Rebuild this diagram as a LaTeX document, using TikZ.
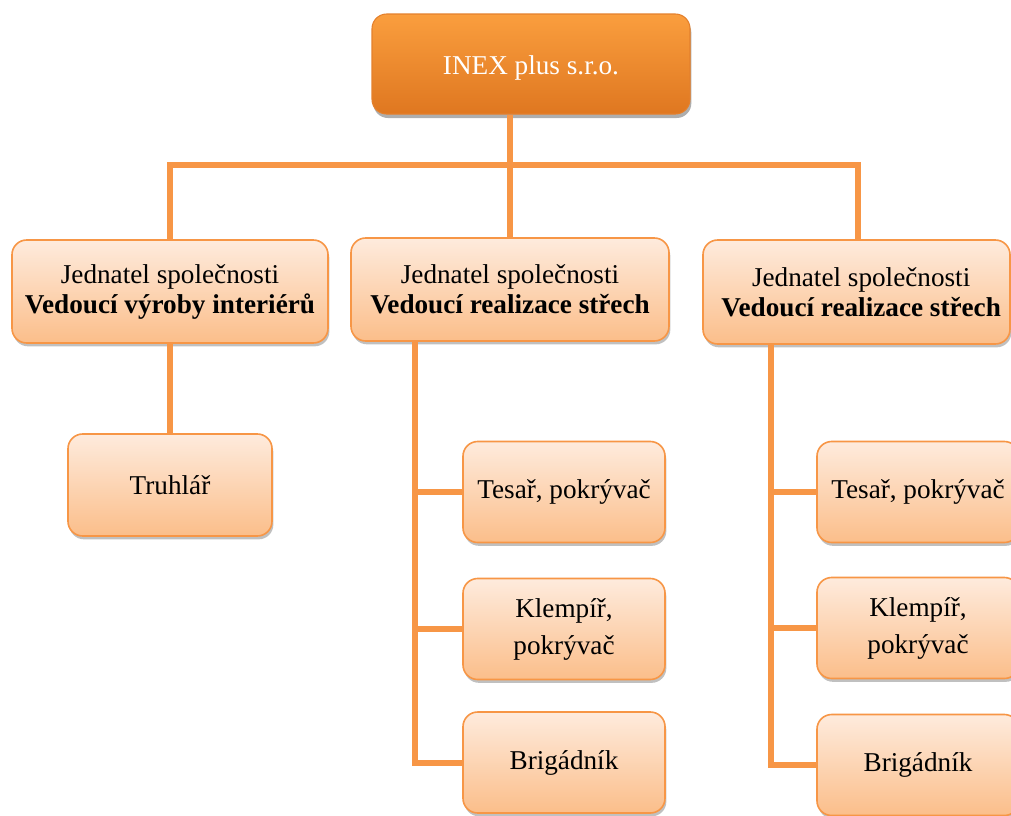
\documentclass[tikz,border=0pt]{standalone}
\usepackage{fontspec}
\setmainfont{Liberation Serif}
\usetikzlibrary{shadows,calc}
\definecolor{lineor}{HTML}{F79646}
\definecolor{boxtop}{HTML}{FEEBDD}
\definecolor{boxbot}{HTML}{FBBE8A}
\definecolor{hdtop}{HTML}{FA9E3E}
\definecolor{hdbot}{HTML}{DF7720}
\definecolor{hdedge}{HTML}{E4802C}
\tikzset{
  lightbox/.style={rounded corners=11pt, draw=lineor, line width=1.2pt,
    top color=boxtop, bottom color=boxbot, align=center, inner sep=2pt,
    font=\fontsize{20.4}{22.5}\selectfont,
    drop shadow={shadow xshift=1pt, shadow yshift=-2.5pt, opacity=0.35, fill=black!70}},
  headbox/.style={rounded corners=11pt, draw=hdedge, line width=0.8pt,
    top color=hdtop, bottom color=hdbot, text=white, align=center,
    font=\fontsize{20.4}{22.5}\selectfont,
    drop shadow={shadow xshift=1pt, shadow yshift=-3pt, opacity=0.45, fill=black!70}},
  conn/.style={draw=lineor, line width=4.5pt, line join=miter},
}
\begin{document}
\begin{tikzpicture}[x=0.75pt,y=-0.75pt]
\clip (0,0) rectangle (1011,815);
\fill[white] (0,0) rectangle (1011,815);
\coordinate (bar) at (0,165);
\coordinate (s2) at (415,0);
\coordinate (s3) at (771,0);
\node[headbox, minimum width=238.5pt, minimum height=75pt] (top) at (531,64) {\raisebox{-3pt}[\height][\depth]{INEX plus s.r.o.}};
\node[lightbox, minimum width=237pt, minimum height=77.25pt] (la) at (170,291.5)
  {Jednatel společnosti\\\textbf{Vedoucí výroby interiérů}};
\node[lightbox, minimum width=238.5pt, minimum height=77.25pt] (lb) at (510,289.5)
  {Jednatel společnosti\\\textbf{Vedoucí realizace střech}};
\node[lightbox, minimum width=230.25pt, minimum height=78pt] (lc) at (856.5,292)
  {\hspace*{7pt}Jednatel společnosti\\\hspace*{7pt}\textbf{Vedoucí realizace střech}};
\node[lightbox, minimum width=153pt, minimum height=76.5pt] (tr) at (170,485) {Truhlář};
\node[lightbox, minimum width=151.5pt, minimum height=75.75pt] (t2) at (564,492) {Tesař, pokrývač};
\node[lightbox, minimum width=151.5pt, minimum height=75.75pt, font=\fontsize{20.4}{27.75}\selectfont] (k2) at (564,629) {Klempíř,\\pokrývač};
\node[lightbox, minimum width=151.5pt, minimum height=75.75pt] (b2) at (564,762.5) {Brigádník};
\node[lightbox, minimum width=151.5pt, minimum height=75.75pt] (t3) at (918,492) {Tesař, pokrývač};
\node[lightbox, minimum width=151.5pt, minimum height=75.75pt, font=\fontsize{20.4}{27.75}\selectfont] (k3) at (918,628) {Klempíř,\\pokrývač};
\node[lightbox, minimum width=151.5pt, minimum height=75.75pt] (b3) at (918,765) {Brigádník};
% connectors
\draw[conn] (top.south -| lb.north) -- (lb.north);
\draw[conn] (la.north) -- (la.north |- bar) -- (bar -| 858,0) -- (858,240);
\draw[conn] (lb.south -| s2) -- (b2.west -| s2) -- (b2.west);
\draw[conn] (t2.west -| s2) -- (t2.west);
\draw[conn] (k2.west -| s2) -- (k2.west);
\draw[conn] (lc.south -| s3) -- (b3.west -| s3) -- (b3.west);
\draw[conn] (t3.west -| s3) -- (t3.west);
\draw[conn] (k3.west -| s3) -- (k3.west);
\draw[conn] (la.south) -- (tr.north);
\end{tikzpicture}
\end{document}
